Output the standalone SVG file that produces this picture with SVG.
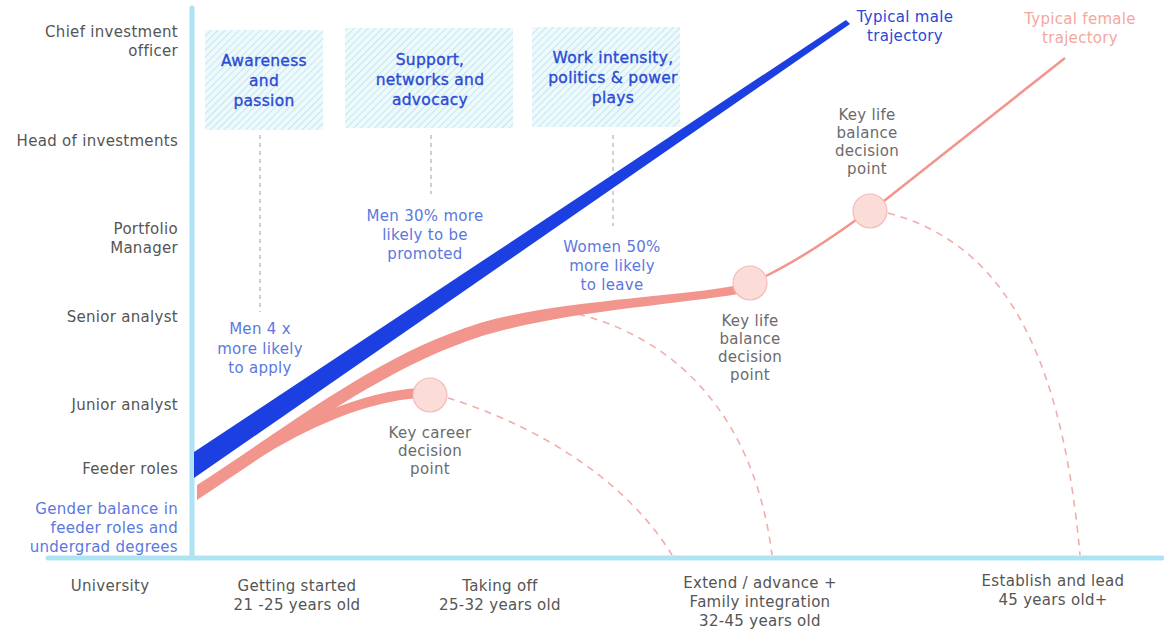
<svg xmlns="http://www.w3.org/2000/svg" width="1164" height="629" viewBox="0 0 1164 629">
<defs>
<pattern id="hatch" width="5" height="5" patternUnits="userSpaceOnUse" patternTransform="rotate(45)">
<rect width="5" height="5" fill="#eef9fc"/>
<line x1="0" y1="0" x2="0" y2="5" stroke="#bde5f0" stroke-width="1.8"/>
</pattern>
</defs>
<style>
text{font-family:"DejaVu Sans","Liberation Sans",sans-serif;font-size:15px;letter-spacing:0.3px}
.ax{fill:#555;text-anchor:end}
.xl{fill:#555;text-anchor:middle}
.box{fill:#2b4bd3;stroke:#2b4bd3;stroke-width:0.35;text-anchor:middle;font-size:15.5px}
.note{fill:#5b78e0;text-anchor:middle}
.gray{fill:#6b6b6b;text-anchor:middle}
.axis{stroke:#aee3f3;stroke-width:5;stroke-linecap:round;fill:none}
.vdash{stroke:#9aa0a6;stroke-width:1;stroke-dasharray:4 4;fill:none}
.pdash{stroke:#f2adab;stroke-width:1.6;stroke-dasharray:7 6;fill:none}
.pt{fill:#fbdcd8;stroke:#f3bcb5;stroke-width:1.2}
</style>
<rect width="1164" height="629" fill="#ffffff"/>
<g id="axes">
<line class="axis" x1="192" y1="8" x2="192" y2="558"/>
<line class="axis" x1="48" y1="558" x2="1162" y2="558"/>
</g>
<g id="y-labels">
<text class="ax" x="178" y="37">Chief investment</text>
<text class="ax" x="178" y="56">officer</text>
<text class="ax" x="178" y="146">Head of investments</text>
<text class="ax" x="178" y="234">Portfolio</text>
<text class="ax" x="178" y="253">Manager</text>
<text class="ax" x="178" y="322">Senior analyst</text>
<text class="ax" x="178" y="410">Junior analyst</text>
<text class="ax" x="178" y="474">Feeder roles</text>
<text class="ax" x="178" y="514" style="fill:#5b78e0">Gender balance in</text>
<text class="ax" x="178" y="533" style="fill:#5b78e0">feeder roles and</text>
<text class="ax" x="178" y="552" style="fill:#5b78e0">undergrad degrees</text>
</g>
<g id="x-labels">
<text class="xl" x="110" y="591">University</text>
<text class="xl" x="297" y="591">Getting started</text>
<text class="xl" x="297" y="610">21 -25 years old</text>
<text class="xl" x="500" y="591">Taking off</text>
<text class="xl" x="500" y="610">25-32 years old</text>
<text class="xl" x="760" y="588">Extend / advance +</text>
<text class="xl" x="760" y="607">Family integration</text>
<text class="xl" x="760" y="626">32-45 years old</text>
<text class="xl" x="1053" y="586">Establish and lead</text>
<text class="xl" x="1053" y="605">45 years old+</text>
</g>
<g id="box-awareness">
<rect x="205" y="30" width="118" height="100" fill="url(#hatch)"/>
<text class="box" x="264" y="66">Awareness</text>
<text class="box" x="264" y="86">and</text>
<text class="box" x="264" y="106">passion</text>
</g>
<g id="box-support">
<rect x="345" y="28" width="168" height="100" fill="url(#hatch)"/>
<text class="box" x="430" y="65">Support,</text>
<text class="box" x="430" y="85">networks and</text>
<text class="box" x="430" y="105">advocacy</text>
</g>
<g id="box-work">
<rect x="532" y="27" width="148" height="100" fill="url(#hatch)"/>
<text class="box" x="613" y="63">Work intensity,</text>
<text class="box" x="613" y="83">politics &amp; power</text>
<text class="box" x="613" y="103">plays</text>
</g>
<g id="connectors">
<line class="vdash" x1="260" y1="135" x2="260" y2="312"/>
<line class="vdash" x1="431" y1="135" x2="431" y2="194"/>
<line class="vdash" x1="613" y1="135" x2="613" y2="226"/>
<path class="pdash" d="M448,398 C520,420 620,470 672,555"/>
<path class="pdash" d="M578,314 C680,340 755,420 772,555"/>
<path class="pdash" d="M888,213 C990,240 1060,330 1080,555"/>
</g>
<g id="male-trajectory">
<polygon points="194,452 846,20 850,24 194,478" fill="#1b3fe0"/>
<text class="note" x="905" y="22" style="fill:#2c46d6">Typical male</text>
<text class="note" x="905" y="41" style="fill:#2c46d6">trajectory</text>
</g>
<g id="female-trajectory">
<path d="M250,458 C305,422 365,397 418,393" fill="none" stroke="#f2958c" stroke-width="10"/>
<path d="M197,485 C300,418 380,354 480,323 C560,300 680,297 738,285 L738,294 C680,304 560,312 482,336 C385,367 300,432 197,500 Z" fill="#f2958c"/>
<path d="M766,276 C790,264 820,246 856,220" fill="none" stroke="#f2958c" stroke-width="2.5"/>
<line x1="884" y1="201" x2="1065" y2="58" stroke="#f2958c" stroke-width="2.5"/>
<text class="note" x="1080" y="24" style="fill:#f4a79d">Typical female</text>
<text class="note" x="1080" y="43" style="fill:#f4a79d">trajectory</text>
</g>
<g id="career-point">
<circle class="pt" cx="430" cy="395" r="17"/>
<text class="gray" x="430" y="438">Key career</text>
<text class="gray" x="430" y="456">decision</text>
<text class="gray" x="430" y="474">point</text>
</g>
<g id="life-point-1">
<circle class="pt" cx="750" cy="283" r="17"/>
<text class="gray" x="750" y="326">Key life</text>
<text class="gray" x="750" y="344">balance</text>
<text class="gray" x="750" y="362">decision</text>
<text class="gray" x="750" y="380">point</text>
</g>
<g id="life-point-2">
<circle class="pt" cx="870" cy="211" r="17"/>
<text class="gray" x="867" y="120">Key life</text>
<text class="gray" x="867" y="138">balance</text>
<text class="gray" x="867" y="156">decision</text>
<text class="gray" x="867" y="174">point</text>
</g>
<g id="notes">
<text class="note" x="260" y="334">Men 4 x</text>
<text class="note" x="260" y="354">more likely</text>
<text class="note" x="260" y="373">to apply</text>
<text class="note" x="425" y="221">Men 30% more</text>
<text class="note" x="425" y="240">likely to be</text>
<text class="note" x="425" y="259">promoted</text>
<text class="note" x="612" y="252">Women 50%</text>
<text class="note" x="612" y="271">more likely</text>
<text class="note" x="612" y="290">to leave</text>
</g>
</svg>
